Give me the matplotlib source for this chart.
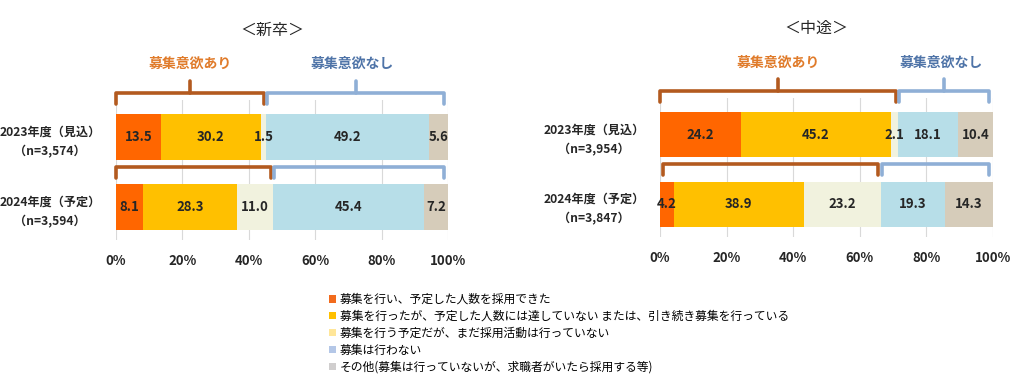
import numpy as np
import matplotlib
matplotlib.use("Agg")
import matplotlib.pyplot as plt
from matplotlib.patches import Patch

plt.rcParams['font.family'] = ['Noto Sans CJK JP', 'DejaVu Sans']

# ===== データ =====
panel_titles = ["＜新卒＞", "＜中途＞"]
row_labels = [
    ["2023年度（見込）\n（n=3,574）", "2024年度（予定）\n（n=3,594）"],
    ["2023年度（見込）\n（n=3,954）", "2024年度（予定）\n（n=3,847）"],
]
shinsotsu = [
    [13.5, 30.2, 1.5, 49.2, 5.6],
    [8.1, 28.3, 11.0, 45.4, 7.2],
]
chuto = [
    [24.2, 45.2, 2.1, 18.1, 10.4],
    [4.2, 38.9, 23.2, 19.3, 14.3],
]
panel_values = [shinsotsu, chuto]

categories = [
    "募集を行い、予定した人数を採用できた",
    "募集を行ったが、予定した人数には達していない または、引き続き募集を行っている",
    "募集を行う予定だが、まだ採用活動は行っていない",
    "募集は行わない",
    "その他(募集は行っていないが、求職者がいたら採用する等)",
]
group_labels = ["募集意欲あり", "募集意欲なし"]

# ===== 色 =====
bar_colors = ["#FF6600", "#FFC000", "#F1F2DE", "#B7DEE8", "#D6CCBA"]
legend_colors = ["#F26B1D", "#FFC000", "#FFE699", "#B4C7E7", "#D0CECE"]
bracket_colors = ["#B35A1F", "#8FAFD6"]
group_text_colors = ["#E07B2A", "#4F74A8"]

W, H = 1024, 390
fig = plt.figure(figsize=(W / 100, H / 100), dpi=100)

# axes rects in pixels: (x0, x1, ytop, ybottom)
rects = [(116, 448, 100, 240), (660, 993, 98, 237)]


def bracket(ax, x0, x1, y, depth, color, bump=None):
    xs = [x0, x0, x1, x1]
    ys = [y + depth, y, y, y + depth]
    ax.plot(xs, ys, color=color, lw=2.6, clip_on=False,
            solid_joinstyle='round', solid_capstyle='round', zorder=5)
    if bump is not None:
        ax.plot([bump, bump], [y, y - 0.17], color=color, lw=2.6,
                clip_on=False, solid_capstyle='round', zorder=5)


for p, (vals, rect) in enumerate(zip(panel_values, rects)):
    x0, x1, yt, yb = rect
    ax = fig.add_axes([x0 / W, 1 - yb / H, (x1 - x0) / W, (yb - yt) / H])
    vals = np.array(vals)
    ypos = np.arange(len(vals))
    left = np.zeros(len(vals))
    for k in range(vals.shape[1]):
        ax.barh(ypos, vals[:, k], left=left, height=0.65,
                color=bar_colors[k], zorder=3)
        for i in ypos:
            ax.text(left[i] + vals[i, k] / 2, i, f"{vals[i, k]:.1f}",
                    ha='center', va='center', fontsize=9.5,
                    fontweight='bold', color='#262626', zorder=6)
        left += vals[:, k]

    ax.set_xlim(0, 100)
    ax.set_ylim(1.47, -0.53)
    ax.set_xticks(np.arange(0, 101, 20))
    ax.set_xticklabels([f"{t}%" for t in range(0, 101, 20)],
                       fontsize=9.5, fontweight='bold', color='#262626')
    ax.tick_params(axis='x', length=0, pad=10)
    ax.set_yticks(ypos)
    ax.set_yticklabels(row_labels[p], fontsize=8.7, fontweight='bold',
                       color='#262626', linespacing=1.65)
    for lab in ax.get_yticklabels():
        lab.set_multialignment('center')
    ax.tick_params(axis='y', length=0, pad=11)
    ax.grid(axis='x', color='#D9D9D9', lw=0.8, zorder=0)
    for s in ax.spines.values():
        s.set_visible(False)

    # brackets
    for i in ypos:
        s3 = vals[i, :3].sum()
        if i == 0:
            y, depth = -0.63, 0.16
            b_or = (0 + s3 - 0.6) / 2
            b_bl = (s3 + 0.4 + 98.8) / 2
        else:
            y, depth = 1 - 0.58, 0.16
            b_or = b_bl = None
        start = 0 if vals[i, 0] > 5 else 0.8
        bracket(ax, start, s3 - 0.7, y, depth, bracket_colors[0], b_or)
        bracket(ax, s3 + 0.3, 98.7, y, depth, bracket_colors[1], b_bl)
        if i == 0:
            ax.text(b_or, -1.04, group_labels[0], ha='center', va='center',
                    fontsize=10, fontweight='bold', color=group_text_colors[0])
            ax.text(b_bl - 1, -1.04, group_labels[1], ha='center', va='center',
                    fontsize=10, fontweight='bold', color=group_text_colors[1])

    ax.text(0.47, 1.50, panel_titles[p], transform=ax.transAxes,
            ha='center', va='center', fontsize=11.5, color='#262626')

handles = [Patch(facecolor=c, edgecolor='none') for c in legend_colors]
fig.legend(handles, categories, loc='upper left',
           bbox_to_anchor=(329 / W, 1 - 293 / H), frameon=False,
           fontsize=8.5, handlelength=0.6, handleheight=0.6,
           handletextpad=0.3, labelspacing=0.33, borderaxespad=0,
           borderpad=0)

fig.savefig("out.png", dpi=100)
